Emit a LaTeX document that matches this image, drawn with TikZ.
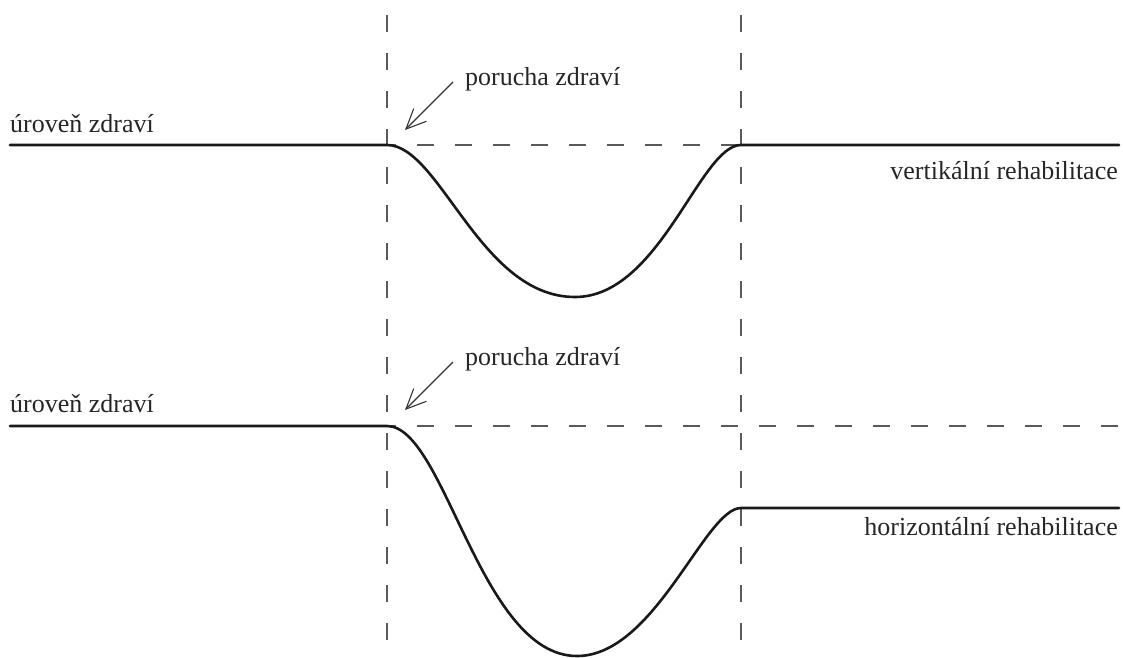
\documentclass[tikz,border=0pt]{standalone}
\usepackage{fontspec}
\setmainfont{Liberation Serif}
\usetikzlibrary{arrows.meta}
\begin{document}
\begin{tikzpicture}[x=1pt,y=-1pt,
  guide/.style={draw=black!65,line width=1.2pt,dash pattern=on 17pt off 21pt},
  health/.style={draw=black!90,line width=2.6pt,line cap=round},
  lbl/.style={inner sep=0pt,font=\fontsize{26}{30}\selectfont,text=black!85},
  pointer/.style={draw=black!80,line width=1.1pt,-{Straight Barb[length=20pt,width=18pt,line width=1.1pt]}}]
\useasboundingbox (0,0) rectangle (1123,657);
% vertical guides
\draw[guide] (387,15) -- (387,657);
\draw[guide] (741,15) -- (741,657);
% horizontal guides
\draw[guide,dash phase=-30pt] (387,145) -- (741,145);
\draw[guide,dash phase=-30pt] (387,426) -- (1123,426);
% top curve
\coordinate (t0) at (10,145);
\coordinate (t1) at (387,145);
\coordinate (tm) at (575,297);
\coordinate (t2) at (741,145);
\coordinate (t3) at (1119,145);
\draw[health] (t0) -- (t1) .. controls (440,145) and (480,297) .. (tm)
  .. controls (660,297) and (700,145) .. (t2) -- (t3);
% bottom curve
\coordinate (b0) at (10,426);
\coordinate (b1) at (387,426);
\coordinate (bm) at (577,656);
\coordinate (b2) at (741,508);
\coordinate (b3) at (1119,508);
\draw[health] (b0) -- (b1) .. controls (445,426) and (480,656) .. (bm)
  .. controls (655,656) and (705,508) .. (b2) -- (b3);
% labels
\node[lbl,anchor=base west] (u1) at (10,132) {úroveň zdraví};
\node[lbl,anchor=base west] (u2) at (10,412) {úroveň zdraví};
\node[lbl,anchor=base west] (p1) at (465,85) {porucha zdraví};
\node[lbl,anchor=base west] (p2) at (465,365) {porucha zdraví};
\node[lbl,anchor=base east] (v1) at (1118,179) {vertikální rehabilitace};
\node[lbl,anchor=base east] (h1) at (1118,535) {horizontální rehabilitace};
% arrows
\coordinate (a1s) at (453,82);
\coordinate (a1e) at (405,130);
\coordinate (a2s) at (453,362);
\coordinate (a2e) at (405,410);
\draw[pointer] (a1s) -- (a1e);
\draw[pointer] (a2s) -- (a2e);
\end{tikzpicture}
\end{document}
